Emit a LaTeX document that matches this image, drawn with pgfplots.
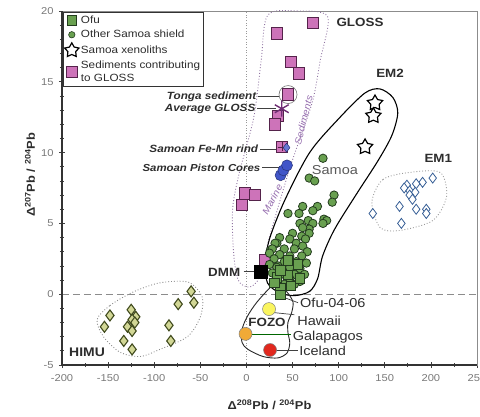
\documentclass[border=0pt]{standalone}
\usepackage{fontspec}
\setmainfont{Liberation Sans}[FakeStretch=1.12]
\usepackage{pgfplots}
\pgfplotsset{compat=1.18}

\definecolor{grfill}{RGB}{105,160,80}
\definecolor{grdraw}{RGB}{35,60,30}
\definecolor{pkfill}{RGB}{205,115,185}
\definecolor{pkdraw}{RGB}{85,35,75}
\definecolor{himufill}{RGB}{210,215,150}
\definecolor{himudraw}{RGB}{65,75,30}
\definecolor{emblue}{RGB}{55,95,150}
\definecolor{txt}{RGB}{45,45,45}
\definecolor{ticktxt}{RGB}{120,120,120}
\definecolor{cblue}{RGB}{65,85,200}
\definecolor{cyel}{RGB}{250,245,95}
\definecolor{corange}{RGB}{240,170,55}
\definecolor{cred}{RGB}{225,40,30}
\definecolor{violet2}{RGB}{150,110,175}
\definecolor{gpurple}{RGB}{110,45,115}

\pgfdeclareplotmark{fivestar}{%
  \pgfpathmoveto{\pgfqpoint{0pt}{\pgfplotmarksize}}%
  \pgfpathlineto{\pgfqpoint{0.32\pgfplotmarksize}{0.44\pgfplotmarksize}}%
  \pgfpathlineto{\pgfqpoint{0.951\pgfplotmarksize}{0.309\pgfplotmarksize}}%
  \pgfpathlineto{\pgfqpoint{0.52\pgfplotmarksize}{-0.17\pgfplotmarksize}}%
  \pgfpathlineto{\pgfqpoint{0.588\pgfplotmarksize}{-0.809\pgfplotmarksize}}%
  \pgfpathlineto{\pgfqpoint{0pt}{-0.55\pgfplotmarksize}}%
  \pgfpathlineto{\pgfqpoint{-0.588\pgfplotmarksize}{-0.809\pgfplotmarksize}}%
  \pgfpathlineto{\pgfqpoint{-0.52\pgfplotmarksize}{-0.17\pgfplotmarksize}}%
  \pgfpathlineto{\pgfqpoint{-0.951\pgfplotmarksize}{0.309\pgfplotmarksize}}%
  \pgfpathlineto{\pgfqpoint{-0.32\pgfplotmarksize}{0.44\pgfplotmarksize}}%
  \pgfpathclose
  \pgfusepathqfillstroke
}

\begin{document}
\begin{tikzpicture}
\begin{axis}[
  scale only axis, width=415bp, height=354bp,
  xmin=-200, xmax=250, ymin=-5, ymax=20,
  xtick={-200,-150,...,250}, ytick={-5,0,...,20},
  minor x tick num=1, minor y tick num=4,
  tick pos=left, tick align=center,
  major tick length=6bp, minor tick length=4bp,
  axis line style={black!45, line width=0.5pt},
  every tick/.style={black!75, line width=0.7pt},
  tick label style={font=\fontsize{10}{12}\selectfont, text=ticktxt},
  /pgf/number format/assume math mode=true,
  xticklabel style={yshift=-3bp},
  yticklabel style={xshift=-2bp},
  xlabel={\bfseries Δ\textsuperscript{208}Pb / \textsuperscript{204}Pb},
  ylabel={\bfseries Δ\textsuperscript{207}Pb / \textsuperscript{204}Pb},
  xlabel style={at={(rel axis cs:0.5,-0.113)}, anchor=center, font=\fontsize{11.5}{13}\selectfont, text=txt},
  ylabel style={at={(rel axis cs:-0.077,0.537)}, anchor=center, font=\fontsize{11.5}{13}\selectfont, text=txt},
  clip=false,
  legend style={at={(rel axis cs:0.002,0.998)}, anchor=north west, draw=black!80, line width=0.7pt,
    font=\fontsize{10.5}{13}\selectfont, text=txt, inner sep=1.5pt, row sep=1.6bp,
    cells={anchor=west, align=left}},
  legend cell align=left,
  legend image code/.code={\draw[mark repeat=2,mark phase=2] plot coordinates {(0bp,0bp)(6bp,0bp)(12bp,0bp)};},
]
% legend entries
\addlegendimage{only marks, mark=square*, mark size=4.8bp, mark options={fill=grfill, draw=grdraw, line width=0.6pt}}
\addlegendentry{Ofu}
\addlegendimage{only marks, mark=*, mark size=3.2bp, mark options={fill=grfill, draw=grdraw, line width=0.6pt}}
\addlegendentry{Other Samoa shield}
\addlegendimage{only marks, mark=fivestar, mark size=7.5bp, mark options={fill=white, draw=black, line width=1.2pt}}
\addlegendentry{Samoa xenoliths}
\addlegendimage{only marks, mark=square*, mark size=5.3bp, mark options={fill=pkfill, draw=pkdraw, line width=0.6pt}}
\addlegendentry{Sediments contributing\\to GLOSS}

% reference lines
\addplot[forget plot, black!45, dash pattern=on 7bp off 4bp, line width=0.7pt] coordinates {(-200,0) (250,0)};
\addplot[forget plot, black!40, dotted, line width=0.7pt] coordinates {(0,-5) (0,20)};

% field outlines
\addplot[forget plot, black!45, dotted, line width=0.9pt, smooth cycle] coordinates {
 (-162,-1.8) (-148,-0.8) (-123,0.15) (-94,0.8) (-63,0.85) (-48,-0.2) (-50,-1.6) (-64,-3.0) (-94,-3.9) (-115,-4.4) (-137,-4.1) (-155,-3.0)};
\addplot[forget plot, black!40, dotted, line width=0.9pt, smooth cycle] coordinates {
 (136,6.5) (148,8.1) (177,8.6) (210,8.6) (217,6.9) (202,5.2) (166,4.5) (145,4.7)};
\addplot[forget plot, violet2!70!gray, dotted, line width=0.9pt, smooth cycle] coordinates {
 (23,19.7) (55,20.0) (88,19.6) (80,16.5) (72,13.7) (58,11) (47,8.9) (35,6.3) (24,3.8) (14,1.2) (3,0.5) (-9,1.0) (-14,3) (-15,6) (-8,8.5) (8,12.5) (16,16.5)};
% Samoa envelope
\addplot[forget plot, black, line width=1.1pt, smooth cycle] coordinates {
 (144.6,14.5) (158.7,13.9) (164.1,12.8) (157.6,11.2) (142.4,9.4) (119.6,7.1) (95.7,4.6) (82.6,2.7) (77.2,1.1) (68.5,0.2) (52.2,-0.1) (35.9,0.1) (22.8,0.8) (20.7,2.2) (25.0,3.9) (41.3,6.6) (68.5,10.0) (100.1,12.4) (128.3,14.2)};
% FOZO envelope
\addplot[forget plot, black!85, line width=0.9pt, smooth cycle] coordinates {
 (29,0.65) (11.5,-0.55) (0.7,-1.6) (-4.8,-2.5) (-4.8,-3.4) (1.7,-3.9) (18,-4.4) (34,-4.5) (44,-4.15) (47,-3.45) (45,-2.7) (45,-2.0) (49,-1.3) (50.5,-0.55) (44,0.15) (36.4,0.5)};

% HIMU
\addplot[forget plot, only marks, mark=diamond*, mark size=5.5bp, mark options={fill=himufill, draw=himudraw, line width=1.1pt}] coordinates {
 (-60,0.2) (-57,-0.6) (-74,-0.7) (-84,-2.2) (-82,-3.3) (-148,-1.5) (-154,-2.3) (-125,-1.1) (-120,-1.6) (-124,-1.8) (-121,-2.0) (-129,-2.3) (-124,-2.6) (-133,-3.3) (-124,-3.9)};
% EM1
\addplot[forget plot, only marks, mark=diamond*, mark size=5bp, mark options={fill=white, draw=emblue, line width=0.8pt}] coordinates {
 (202,8.2) (191,7.9) (184,7.8) (174,7.7) (171,7.5) (177,7.3) (183,7.2) (177,7.0) (180,6.7) (166,6.2) (184,6.0) (195,6.0) (195,5.7) (137,5.7) (168,5.0)};
% GLOSS sediments
\addplot[forget plot, only marks, mark=square*, mark size=5.8bp, mark options={fill=pkfill, draw=pkdraw, line width=0.8pt}] coordinates {
 (72.2,19.15) (33.2,18.4) (48.4,16.4) (57.0,15.6) (45.1,14.1) (34.3,12.6) (31.0,12.0) (38.6,10.4) (-1.5,7.1) (9.3,7.0) (-4.8,6.3) (20.2,2.4)};
\addplot[forget plot, only marks, mark=+, mark size=4.5bp, mark options={draw=pkdraw, line width=0.8pt}] coordinates {(38.6,10.4)};
\addplot[forget plot, only marks, mark=o, mark size=9bp, mark options={draw=black!55, line width=0.6pt}] coordinates {(45.1,14.1)};
\addplot[forget plot, only marks, mark=asterisk, mark size=8bp, mark options={draw=gpurple, line width=1.4pt}] coordinates {(38.3,13.1)};
\addplot[forget plot, only marks, mark=diamond*, mark size=4.5bp, mark options={fill=cblue!80, draw=cblue!60!black, line width=0.5pt}] coordinates {(43.5,10.35)};
% piston cores
\addplot[forget plot, only marks, mark=*, mark size=5.5bp, mark options={fill=cblue, draw=cblue!60!black, line width=0.5pt}] coordinates {(37,8.4) (40,8.75) (44,9.1)};
% Other Samoa shield
\addplot[forget plot, only marks, mark=*, mark size=4.2bp, mark options={fill=grfill, draw=grdraw, line width=0.8pt}] coordinates {
 (83,9.6) (68,8.2) (74,8.0) (95,7.0) (93,6.5) (61,6.2) (77,6.2) (72,5.9) (45,5.7) (57,5.7) (84,5.3) (87,5.2) (67,5.2) (58,5.0) (72,5.0) (83,5.0) (68,4.6) (61,4.7) (50,4.3) (68,4.3) (60,4.1) (64,3.9) (47,3.9) (36,4.0) (33,3.6) (54,3.6) (61,3.4) (31,3.6) (26,3.1) (28,3.2) (41,3.2) (52,3.2) (66,3.0) (25,2.9) (36,2.8) (47,2.7) (60,2.7) (30,2.5) (41,2.3) (54,2.3) (65,2.2) (25,2.1) (34,2.0) (33,1.9) (47,1.9) (58,1.8) (28,1.5) (41,1.4) (52,1.4) (63,1.4) (34,1.1) (47,1.1) (58,0.9) (41,0.7) (52,0.7)};
% Ofu
\addplot[forget plot, only marks, mark=square*, mark size=4.8bp, mark options={fill=grfill, draw=grdraw, line width=0.8pt}] coordinates {
 (45,2.4) (56,2.1) (45,1.35) (58,1.1) (33,1.2) (37,1.7) (36.5,0.45) (36.5,-0.05) (30,0.8) (48,0.6)};
% Samoa xenoliths
\addplot[forget plot, only marks, mark=fivestar, mark size=8bp, mark options={fill=white, draw=black, line width=1.2pt}] coordinates {(139.4,13.5) (137.6,12.6) (128.6,10.4)};
% DMM
\addplot[forget plot, only marks, mark=square*, mark size=6.5bp, mark options={fill=black, draw=black}] coordinates {(15,1.6)};
% Hawaii, Galapagos, Iceland
\addplot[forget plot, only marks, mark=*, mark size=6.5bp, mark options={fill=cyel, draw=black!50, line width=0.5pt}] coordinates {(24.5,-1.05)};
\addplot[forget plot, only marks, mark=*, mark size=6.5bp, mark options={fill=corange, draw=black!50, line width=0.5pt}] coordinates {(-1,-2.8)};
\addplot[forget plot, only marks, mark=*, mark size=6.5bp, mark options={fill=cred, draw=black!50, line width=0.5pt}] coordinates {(25.6,-3.94)};

% leader lines
\draw[black!75, line width=0.7pt] (axis cs:12.5,13.95) -- (axis cs:35.5,13.95);
\draw[black!75, line width=0.7pt] (axis cs:11.6,13.1) -- (axis cs:32.1,13.1);
\draw[black!75, line width=0.7pt] (axis cs:14.7,10.25) -- (axis cs:34.3,10.25);
\draw[black!75, line width=0.7pt] (axis cs:16.9,8.95) -- (axis cs:36.5,8.95);
\draw[black!75, line width=0.7pt] (axis cs:-3,1.6) -- (axis cs:8,1.6);
\draw[black!75, line width=0.7pt] (axis cs:39.5,-0.2) -- (axis cs:56,-0.6);
\draw[black!75, line width=0.7pt] (axis cs:30,-1.3) -- (axis cs:52,-1.45);
\draw[green!40!black, line width=0.7pt] (axis cs:5,-2.85) -- (axis cs:48,-2.85);
\draw[black!75, line width=0.7pt] (axis cs:32,-3.98) -- (axis cs:56,-3.98);

% labels
\node[anchor=west, font=\bfseries\fontsize{12}{13}\selectfont, text=txt] at (axis cs:93.9,19.2) {GLOSS};
\node[font=\bfseries\fontsize{12}{13}\selectfont, text=txt] at (axis cs:155.7,15.6) {EM2};
\node[font=\bfseries\fontsize{12}{13}\selectfont, text=txt] at (axis cs:208,9.6) {EM1};
\node[font=\fontsize{13}{14}\selectfont, text=black!65] at (axis cs:96,8.8) {Samoa};
\node[anchor=east, font=\bfseries\fontsize{12}{13}\selectfont, text=txt] at (axis cs:-3,1.55) {DMM};
\node[anchor=west, font=\bfseries\fontsize{12.5}{13}\selectfont, text=txt] at (axis cs:-196,-4.1) {HIMU};
\node[font=\bfseries\fontsize{12}{13}\selectfont, text=txt] at (axis cs:22.3,-2.0) {FOZO};
\node[anchor=west, font=\fontsize{13}{14}\selectfont, text=txt, inner sep=1bp] at (axis cs:57,-0.6) {Ofu-04-06};
\node[anchor=west, font=\fontsize{13}{14}\selectfont, text=txt, inner sep=1bp] at (axis cs:54,-1.9) {Hawaii};
\node[anchor=west, font=\fontsize{13}{14}\selectfont, text=txt, inner sep=1bp] at (axis cs:49,-3.05) {Galapagos};
\node[anchor=west, font=\fontsize{13}{14}\selectfont, text=txt, inner sep=1bp] at (axis cs:56,-4.0) {Iceland};
\node[anchor=east, font=\bfseries\itshape\fontsize{10.5}{12}\selectfont, text=txt, inner sep=1bp] at (axis cs:12,13.95) {Tonga sediment};
\node[anchor=east, font=\bfseries\itshape\fontsize{10.5}{12}\selectfont, text=txt, inner sep=1bp] at (axis cs:11,13.1) {Average GLOSS};
\node[anchor=east, font=\bfseries\itshape\fontsize{10.5}{12}\selectfont, text=txt, inner sep=1bp] at (axis cs:14,10.25) {Samoan Fe-Mn rind};
\node[anchor=east, font=\bfseries\itshape\fontsize{10.2}{12}\selectfont, text=txt, inner sep=1bp] at (axis cs:16.3,8.95) {Samoan Piston Cores};
\node[rotate=62, font=\itshape\fontsize{9.5}{11}\selectfont, text=violet2, inner sep=0pt] at (axis cs:28,6.7) {Marine};
\node[rotate=76, font=\itshape\fontsize{9.5}{11}\selectfont, text=violet2, inner sep=0pt] at (axis cs:62,12.3) {Sediments};

% heavier left/bottom axes
\draw[black!80, line width=1.2pt] (rel axis cs:0,1) -- (rel axis cs:0,0) -- (rel axis cs:1,0);

\coordinate (bbsw) at (rel axis cs:-0.1494,-0.1441);
\coordinate (bbne) at (rel axis cs:1.00723,1.0311);
\end{axis}
\pgfresetboundingbox
\useasboundingbox (bbsw) rectangle (bbne);
\end{tikzpicture}
\end{document}
